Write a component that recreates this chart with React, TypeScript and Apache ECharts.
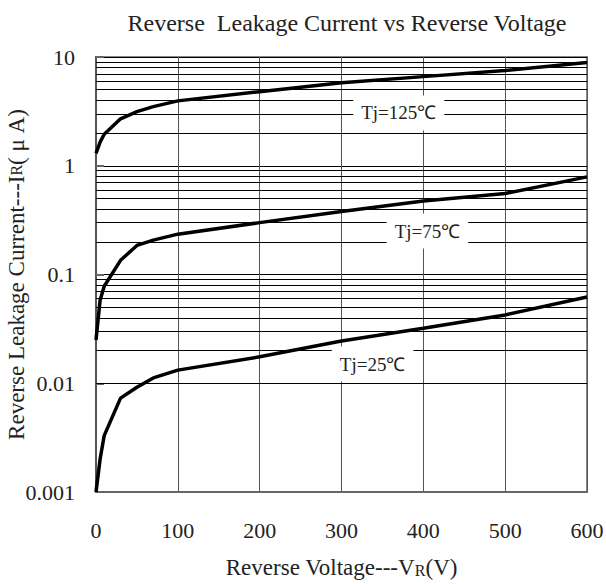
import React, { useEffect, useRef } from "react";
import * as echarts from "echarts";

const voltage = [0, 5, 10, 30, 50, 70, 100, 200, 300, 400, 500, 600];
const tj125 = [1.3, 1.65, 1.95, 2.7, 3.15, 3.5, 3.95, 4.8, 5.8, 6.6, 7.5, 8.9];
const tj75 = [0.025, 0.058, 0.078, 0.135, 0.185, 0.207, 0.235, 0.3, 0.38, 0.475, 0.555, 0.79];
const tj25 = [0.001, 0.002, 0.0033, 0.0073, 0.0092, 0.0112, 0.0132, 0.0175, 0.0245, 0.032, 0.0425, 0.062];

const decades = [0.001, 0.01, 0.1, 1];
const minorSteps = [2, 3, 4, 5, 6, 7, 8, 9];

const curveLabels = [
  { text: "Tj=125℃", v: 370, i: 3.06 },
  { text: "Tj=75℃", v: 405, i: 0.251 },
  { text: "Tj=25℃", v: 338, i: 0.01503 },
];

const FONT = "'Liberation Serif', 'Times New Roman', serif";

export default function App() {
  const ref = useRef<HTMLDivElement>(null);
  useEffect(() => {
    document.body.style.margin = "0";
    if (!ref.current) return;
    const chart = echarts.init(ref.current, null, { renderer: "svg" });
    const minorVals: number[] = [];
    decades.forEach((d) => minorSteps.forEach((s) => minorVals.push(+(d * s).toPrecision(3))));
    const mk = (vals: number[]) => voltage.map((v, k) => [v, vals[k]]);
    const lineSeries = (name: string, vals: number[]) => ({
      name,
      type: "line",
      data: mk(vals),
      symbol: "none",
      smooth: false,
      z: 5,
      lineStyle: { color: "#000", width: 3.5 },
    });
    chart.setOption({
      animation: false,
      backgroundColor: "#fff",
      title: {
        text: "Reverse  Leakage Current vs Reverse Voltage",
        left: 342,
        top: 6,
        textAlign: "center",
        textStyle: { fontFamily: FONT, fontSize: 24, fontWeight: "normal", color: "#222" },
      },
      grid: {
        left: 96,
        right: 19,
        top: 57,
        bottom: 92,
        containLabel: false,
        outerBoundsMode: "none",
        show: true,
        borderColor: "#888",
        borderWidth: 2,
        backgroundColor: "transparent",
      },
      xAxis: {
        type: "value",
        min: 0,
        max: 600,
        interval: 100,
        name: "Reverse Voltage---V{s|R}(V)",
        nameLocation: "middle",
        nameGap: 64,
        nameMoveOverlap: false,
        nameTextStyle: {
          fontFamily: FONT,
          fontSize: 23,
          color: "#222",
          rich: { s: { fontFamily: FONT, fontSize: 16, color: "#222", padding: [6, 0, 0, 0] } },
        },
        axisLine: { show: true, lineStyle: { color: "#666", width: 2 } },
        axisTick: { show: false },
        axisLabel: { margin: 27, fontFamily: FONT, fontSize: 22, color: "#222" },
        splitLine: { show: true, lineStyle: { color: "#555", width: 1 } },
      },
      yAxis: {
        type: "log",
        logBase: 10,
        min: 0.001,
        max: 10,
        name: "Reverse Leakage Current---I{s|R}( μ A)",
        nameLocation: "middle",
        nameGap: 68,
        nameMoveOverlap: false,
        nameRotate: 90,
        nameTextStyle: {
          fontFamily: FONT,
          fontSize: 23,
          color: "#222",
          rich: { s: { fontFamily: FONT, fontSize: 16, color: "#222" } },
        },
        axisLine: { show: true, lineStyle: { color: "#555", width: 2 } },
        axisTick: { show: true, inside: true, length: 8, lineStyle: { color: "#666", width: 2 } },
        axisLabel: {
          margin: 21,
          fontFamily: FONT,
          fontSize: 22,
          color: "#222",
          formatter: (v: number) => String(+v.toPrecision(3)),
        },
        splitLine: { show: true, lineStyle: { color: "#000", width: 1 } },
      },
      series: [
        {
          name: "grid-minor",
          type: "line",
          data: [],
          silent: true,
          z: 1,
          markLine: {
            silent: true,
            symbol: ["none", "none"],
            label: { show: false },
            lineStyle: { color: "#000", width: 1, type: "solid" },
            data: minorVals.map((v) => ({ yAxis: v })),
          },
        },
        lineSeries("Tj=125℃", tj125),
        lineSeries("Tj=75℃", tj75),
        lineSeries("Tj=25℃", tj25),
        {
          name: "labels",
          type: "scatter",
          data: [],
          z: 4,
          silent: true,
          markPoint: {
            symbol: "rect",
            symbolSize: 1,
            itemStyle: { color: "rgba(0,0,0,0)" },
            label: {
              show: true,
              position: "inside",
              fontFamily: FONT,
              fontSize: 19,
              color: "#222",
              backgroundColor: "#fff",
              padding: [8, 8, 8, 8],
              formatter: (p: any) => p.name,
            },
            data: curveLabels.map((l) => ({ name: l.text, coord: [l.v, l.i] })),
          },
        },
      ],
    });
    return () => chart.dispose();
  }, []);
  return <div ref={ref} style={{ width: 606, height: 584, position: "absolute", left: 0, top: 0 }} />;
}
